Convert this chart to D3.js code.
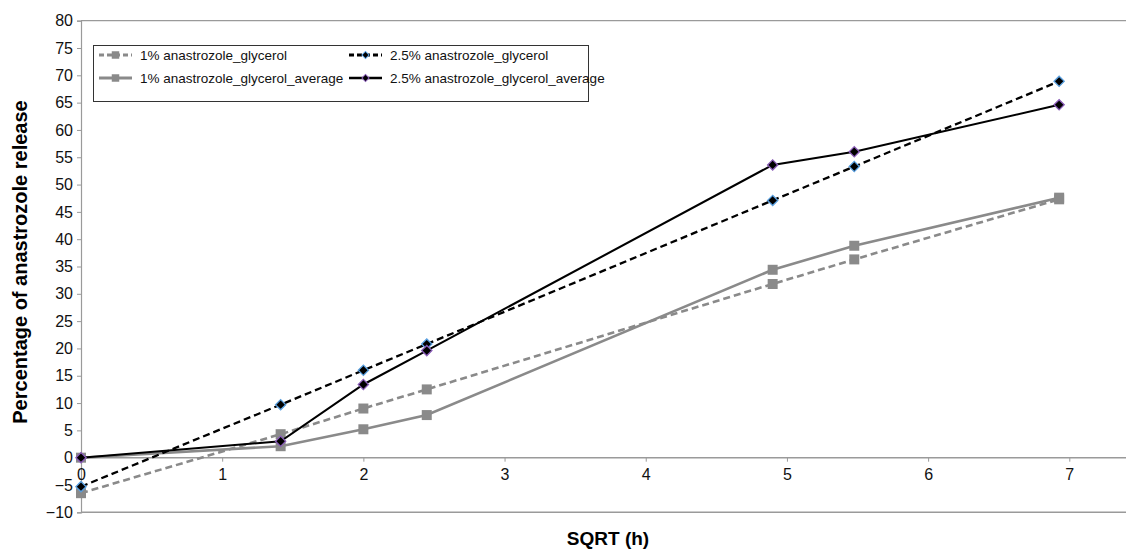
<!DOCTYPE html>
<html>
<head>
<meta charset="utf-8">
<script src="https://cdn.jsdelivr.net/npm/d3@7"></script>
<style>
  body { margin: 0; background: #fff; }
  svg { font-family: "Liberation Sans", Arial, sans-serif; }
</style>
</head>
<body>
<div id="wrapper"></div>
<script>
// sqrt of sampling times (h)
let sqrtTimes = [0, 1.414, 2, 2.449, 4.899, 5.477, 6.928];

let glyc1 = [-6.5, 4.3, 9.0, 12.5, 31.8, 36.3, 47.3];
let glyc1Avg = [0, 2.1, 5.2, 7.8, 34.4, 38.8, 47.6];
let glyc25 = [-5.3, 9.7, 16.0, 20.8, 47.1, 53.3, 68.9];
let glyc25Avg = [0, 3.0, 13.4, 19.6, 53.6, 56.0, 64.6];

let seriesNames = [
    '1% anastrozole_glycerol',
    '2.5% anastrozole_glycerol',
    '1% anastrozole_glycerol_average',
    '2.5% anastrozole_glycerol_average'
];

let yTicks = d3.range(-10, 81, 5);
let xTicks = [0, 1, 2, 3, 4, 5, 6, 7];

let width = 1126, height = 552;

let svg = d3.select('#wrapper').append('svg')
    .attr('width', width)
    .attr('height', height);

let xScale = d3.scaleLinear().domain([0, 7]).range([81, 1069.3]);
let yScale = d3.scaleLinear().domain([-10, 80]).range([512.3, 20.7]);

// series styling
let series = [
    {name: seriesNames[0], values: glyc1, color: '#8a8a8a', dash: '7,4', width: 2.6, shape: 'square', edge: '#8a8a8a'},
    {name: seriesNames[2], values: glyc1Avg, color: '#8a8a8a', dash: null, width: 2.6, shape: 'square', edge: '#8a8a8a'},
    {name: seriesNames[1], values: glyc25, color: '#000', dash: '7,4', width: 2.3, shape: 'diamond', edge: '#5aa0e0'},
    {name: seriesNames[3], values: glyc25Avg, color: '#000', dash: null, width: 2.1, shape: 'diamond', edge: '#8a5cb8'}
];

///AXES
let axisColor = '#9a9a9a';

// top and bottom frame lines
svg.append('line').attr('x1', xScale(0)).attr('x2', width)
    .attr('y1', yScale(80)).attr('y2', yScale(80))
    .attr('stroke', axisColor).attr('stroke-width', 1.2);
svg.append('line').attr('x1', xScale(0)).attr('x2', width)
    .attr('y1', yScale(-10)).attr('y2', yScale(-10))
    .attr('stroke', axisColor).attr('stroke-width', 1.5);

let yAxis = svg.append('g')
    .attr('transform', 'translate(' + xScale(0) + ',0)')
    .call(d3.axisLeft(yScale).tickValues(yTicks).tickSize(4).tickPadding(4)
        .tickFormat(d => d < 0 ? '\u2212' + Math.abs(d) : d));
yAxis.select('.domain').attr('stroke', axisColor).attr('stroke-width', 1.2);
yAxis.selectAll('.tick line').attr('stroke', axisColor);
yAxis.selectAll('.tick text').attr('fill', '#111').style('font-size', '16px');

let xAxis = svg.append('g')
    .attr('transform', 'translate(0,' + yScale(0) + ')')
    .call(d3.axisBottom(xScale).tickValues(xTicks).tickSize(4).tickPadding(7)
        .tickFormat(d => d));
xAxis.select('.domain').remove();
xAxis.append('line').attr('x1', xScale(0)).attr('x2', width)
    .attr('stroke', axisColor).attr('stroke-width', 1.5);
xAxis.selectAll('.tick line').attr('stroke', axisColor);
xAxis.selectAll('.tick text').attr('fill', '#111').style('font-size', '16px');

// axis titles
svg.append('text')
    .attr('x', 608).attr('y', 545)
    .attr('text-anchor', 'middle')
    .style('font-size', '19px').style('font-weight', 'bold')
    .text('SQRT (h)');

svg.append('text')
    .attr('transform', 'translate(27,262) rotate(-90)')
    .attr('text-anchor', 'middle')
    .style('font-size', '20px').style('font-weight', 'bold')
    .text('Percentage of anastrozole release');

///LINES + MARKERS
let lineGen = d3.line()
    .x((d, i) => xScale(sqrtTimes[i]))
    .y(d => yScale(d));

// square markers, and diamonds as squares turned 45 degrees
let symbolFor = (size) => d3.symbol().type(d3.symbolSquare).size(size);
let markerRotate = shape => shape == 'diamond' ? ' rotate(45)' : '';

let seriesGroups = svg.selectAll('.series').data(series).enter()
    .append('g').classed('series', true);

seriesGroups.append('path')
    .attr('d', d => lineGen(d.values))
    .attr('fill', 'none')
    .attr('stroke', d => d.color)
    .attr('stroke-width', d => d.width)
    .attr('stroke-dasharray', d => d.dash);

seriesGroups.each(function(s) {
    d3.select(this).selectAll('.pt').data(s.values).enter()
        .append('path').classed('pt', true)
        .attr('transform', (d, i) => 'translate(' + xScale(sqrtTimes[i]) + ',' + yScale(d) + ')' + markerRotate(s.shape))
        .attr('d', symbolFor(s.shape == 'square' ? 100 : 52))
        .attr('fill', s.shape == 'square' ? s.color : '#000')
        .attr('stroke', s.edge)
        .attr('stroke-width', s.shape == 'square' ? 0 : 1.3);
});

///LEGEND
let legend = svg.append('g').classed('legend', true);
legend.append('rect')
    .attr('x', 93.5).attr('y', 45.5).attr('width', 495).attr('height', 56)
    .attr('fill', '#fff').attr('stroke', '#333').attr('stroke-width', 1);

let legendPos = [
    {x: 99, y: 55}, {x: 349, y: 55},
    {x: 99, y: 78}, {x: 349, y: 78}
];
let legendOrder = [series[0], series[2], series[1], series[3]];

let legendItems = legend.selectAll('.leg-item').data(legendOrder).enter()
    .append('g').classed('leg-item', true)
    .attr('transform', (d, i) => 'translate(' + legendPos[i].x + ',' + legendPos[i].y + ')');

legendItems.append('line')
    .attr('x1', 0).attr('x2', 33)
    .attr('stroke', d => d.color)
    .attr('stroke-width', d => d.width + 0.6)
    .attr('stroke-dasharray', d => d.dash ? '5,3' : null);
legendItems.append('path')
    .attr('transform', d => 'translate(16.5,0)' + markerRotate(d.shape))
    .attr('d', d => symbolFor(d.shape == 'square' ? 56 : 26)())
    .attr('fill', d => d.shape == 'square' ? d.color : '#000')
    .attr('stroke', d => d.edge)
    .attr('stroke-width', d => d.shape == 'square' ? 0 : 1);
legendItems.append('text')
    .attr('x', 41).attr('y', 5)
    .style('font-size', '13.5px').style('fill', '#111')
    .text(d => d.name);
</script>
</body>
</html>
